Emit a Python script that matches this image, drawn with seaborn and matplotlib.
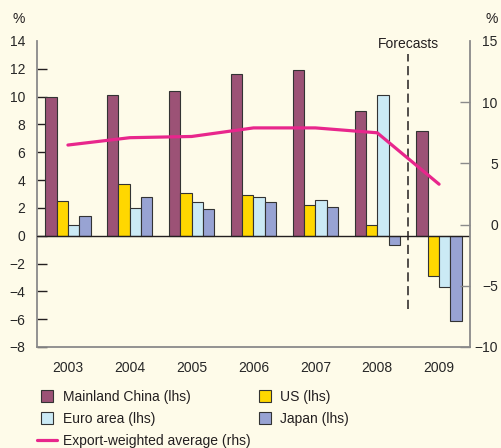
import numpy as np
import pandas as pd
import matplotlib
matplotlib.use('Agg')
import matplotlib.pyplot as plt
from matplotlib.lines import Line2D
import seaborn as sns

# data
years = ['2003', '2004', '2005', '2006', '2007', '2008', '2009']
series = ['Mainland China (lhs)', 'US (lhs)', 'Euro area (lhs)', 'Japan (lhs)']
china = [10.0, 10.1, 10.4, 11.6, 11.9, 9.0, 7.5]
us = [2.5, 3.7, 3.1, 2.9, 2.2, 0.8, -2.9]
euro = [0.8, 2.0, 2.4, 2.8, 2.6, 10.1, -3.7]
japan = [1.4, 2.8, 1.9, 2.4, 2.1, -0.7, -6.1]
export_avg = [6.5, 7.1, 7.2, 7.9, 7.9, 7.5, 3.3]
left_ticks = [14, 12, 10, 8, 6, 4, 2, 0, -2, -4, -6, -8]
right_ticks = [15, 10, 5, 0, -5, -10]

colors = ['#9c5276', '#ffd700', '#cbeaf5', '#98a3d3']
line_color = '#e8268c'
bg = '#fefbe9'
spine_col = '#8a8a8a'

df = pd.DataFrame({
    'year': years * 4,
    'series': np.repeat(series, len(years)),
    'value': china + us + euro + japan,
})

sns.set_style('white')
plt.rcParams['font.family'] = ['Liberation Sans', 'DejaVu Sans']
plt.rcParams['font.size'] = 10
plt.rcParams['text.color'] = '#231f20'

fig = plt.figure(figsize=(5.01, 4.48), dpi=100, facecolor=bg)
ax = fig.add_axes([37 / 501, 1 - 347 / 448, (470 - 37) / 501, (347 - 41) / 448])
ax.set_facecolor(bg)

sns.barplot(data=df, x='year', y='value', hue='series', order=years,
            hue_order=series, palette=colors, saturation=1, width=0.73,
            edgecolor='#333333', linewidth=0.8, ax=ax, legend=False)

ax.set_xlim(-0.5, 6.5)
ax.set_ylim(-8, 14)
ax.axhline(0, color='#231f20', lw=1, zorder=3)

# forecast divider
ax.plot([5.5, 5.5], [-5.3, 13.07], color='#231f20', lw=1.1,
        ls=(0, (6, 3)), zorder=4)
ax.text(5.5, 13.8, 'Forecasts', ha='center', va='center', fontsize=10)

ax2 = ax.twinx()
sns.lineplot(x=np.arange(len(years)), y=export_avg, color=line_color,
             lw=2.3, ax=ax2)
ax2.set_ylim(-10, 15)

# axes styling
for s in ['top', 'right']:
    ax.spines[s].set_visible(False)
for s in ['top', 'left', 'bottom']:
    ax2.spines[s].set_visible(False)
for sp in [ax.spines['left'], ax.spines['bottom'], ax2.spines['right']]:
    sp.set_color(spine_col)
    sp.set_linewidth(1.3)

ax.set_yticks(left_ticks)
ax.tick_params(axis='y', direction='in', length=7.5, width=1,
               color='#231f20', pad=8.5, labelsize=10)
ax.yaxis.get_major_ticks()[0].tick1line.set_visible(False)

ax2.set_yticks(right_ticks)
ax2.tick_params(axis='y', direction='in', length=7, width=1,
                color=spine_col, pad=20, labelsize=10)
for lab in ax2.get_yticklabels():
    lab.set_horizontalalignment('right')
ax2.yaxis.get_major_ticks()[0].tick2line.set_visible(False)

ax.set_xticks(range(len(years)))
ax.set_xticklabels(years)
ax.set_xticks(np.arange(0.5, 6, 1), minor=True)
ax.tick_params(axis='x', which='major', length=0, pad=10, labelsize=10)
ax.tick_params(axis='x', which='minor', direction='in', length=6,
               width=1, color='#231f20')
ax.set_xlabel('')
ax.set_ylabel('')

fig.text(19 / 501, 1 - 19 / 448, '%', ha='center', va='center', fontsize=10)
fig.text(492 / 501, 1 - 19 / 448, '%', ha='center', va='center', fontsize=10)

# legend below the chart
def box(c):
    return Line2D([], [], ls='none', marker='s', markersize=8,
                  markerfacecolor=c, markeredgecolor='#333333',
                  markeredgewidth=0.8)

handles = [box(colors[0]), box(colors[2]),
           Line2D([], [], color=line_color, lw=2.3),
           box(colors[1]), box(colors[3])]
labels = [series[0], series[2], 'Export-weighted average (rhs)',
          series[1], series[3]]
fig.legend(handles, labels, ncol=2, loc='upper left', frameon=False,
           bbox_to_anchor=(37 / 501, 1 - 390 / 448), borderaxespad=0,
           borderpad=0, handlelength=1.45, handletextpad=0.4,
           labelspacing=0.58, columnspacing=0.3, fontsize=10)

fig.savefig('out.png', dpi=100, facecolor=bg)
